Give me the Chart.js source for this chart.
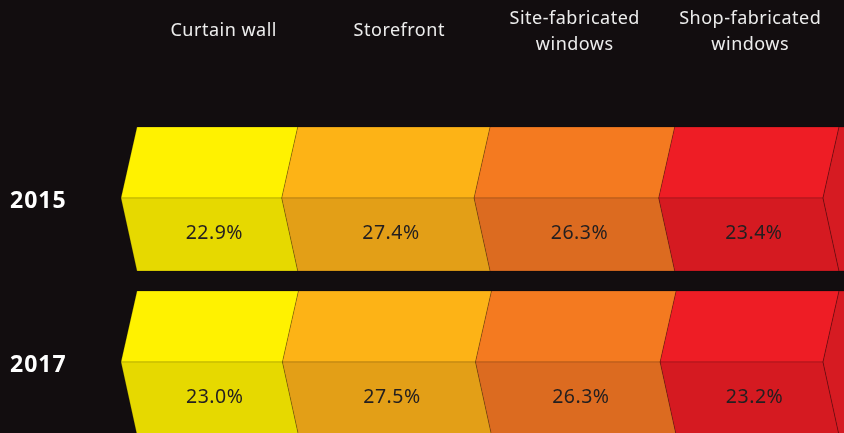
<!DOCTYPE html>
<html>
<head>
<meta charset="utf-8">
<script src="https://cdn.jsdelivr.net/npm/chart.js@4.4.1/dist/chart.umd.min.js"></script>
<style>
  html, body { margin: 0; padding: 0; background: #120d0f; overflow: hidden; }
  #wrap { width: 844px; height: 460px; }
</style>
</head>
<body>
<div id="wrap"><canvas id="myChart" width="844" height="460"></canvas></div>
<script>
const years = ['2015', '2017'];
const categories = [['Curtain wall'], ['Storefront'], ['Site-fabricated', 'windows'], ['Shop-fabricated', 'windows']];
const curtainWall = [22.9, 23.0];
const storefront = [27.4, 27.5];
const siteFab = [26.3, 26.3];
const shopFab = [23.4, 23.2];

const topColors = ['#fff200', '#fdb316', '#f47a20', '#ee1d25'];
const bottomColors = ['#e6d900', '#e39f17', '#dc6b20', '#d51a21'];

const notch = 16;

// draws the chevron shaped segments from the bar elements
const chevronPlugin = {
  id: 'chevrons',
  beforeDraw(chart) {
    const c = chart.ctx;
    c.save();
    c.fillStyle = '#120d0f';
    c.fillRect(0, 0, chart.width, chart.height);
    c.restore();
  },
  afterDatasetsDraw(chart) {
    const c = chart.ctx;
    const area = chart.chartArea;
    const n = chart.data.datasets.length;
    c.save();
    chart.data.datasets.forEach((ds, di) => {
      const meta = chart.getDatasetMeta(di);
      meta.data.forEach((bar, i) => {
        const p = bar.getProps(['x', 'y', 'base', 'height'], true);
        const left = p.base, right = p.x;
        const top = p.y - p.height / 2, bottom = p.y + p.height / 2, mid = p.y - 1;
        const last = di === n - 1;

        // top face
        c.beginPath();
        c.moveTo(left, top);
        c.lineTo(right, top);
        c.lineTo(right - notch, mid);
        c.lineTo(left - notch, mid);
        c.closePath();
        c.fillStyle = topColors[di];
        c.fill();
        c.strokeStyle = 'rgba(0,0,0,0.18)';
        c.lineWidth = 1;
        c.stroke();

        // bottom face
        c.beginPath();
        c.moveTo(left - notch, mid);
        c.lineTo(right - notch, mid);
        c.lineTo(right, bottom);
        c.lineTo(left, bottom);
        c.closePath();
        c.fillStyle = bottomColors[di];
        c.fill();
        c.stroke();

        if (last) {
          // side face at the right end
          c.beginPath();
          c.moveTo(right, top);
          c.lineTo(chart.width + 20, top);
          c.lineTo(chart.width + 20, bottom);
          c.lineTo(right, bottom);
          c.lineTo(right - notch, mid);
          c.closePath();
          c.fillStyle = '#d61b22';
          c.fill();
          c.strokeStyle = 'rgba(0,0,0,0.25)';
          c.stroke();
        }

        // value label
        c.fillStyle = '#231f20';
        c.font = '19.5px "Noto Sans", sans-serif';
        c.letterSpacing = '0.5px';
        c.textAlign = 'center';
        c.textBaseline = 'alphabetic';
        c.fillText(ds.data[i].toFixed(1) + '%', (left + right) / 2 - 3, mid + 41);

        // year label at the left
        if (di === 0) {
          c.fillStyle = '#ffffff';
          c.font = 'bold 23px "Noto Sans", sans-serif';
          c.letterSpacing = '1px';
          c.textAlign = 'left';
          c.fillText(chart.data.labels[i], 10, p.y + 9);
        }
      });

      // column header, evenly spread over the plot width
      const cx = area.left + (di + 0.5) * (area.right - area.left) / n - 1;
      c.fillStyle = '#ededed';
      c.font = '18px "Noto Sans", sans-serif';
      c.letterSpacing = '0.5px';
      c.textAlign = 'center';
      c.textBaseline = 'alphabetic';
      const lines = categories[di];
      if (lines.length === 1) {
        c.fillText(lines[0], cx, 36);
      } else {
        c.fillText(lines[0], cx, 24);
        c.fillText(lines[1], cx, 50);
      }
    });
    c.restore();
  }
};

const ctx = document.getElementById('myChart');
const datasets = [curtainWall, storefront, siteFab, shopFab].map((d, i) => ({
  label: categories[i].join(' '),
  data: d,
  backgroundColor: 'rgba(0,0,0,0)',
  borderWidth: 0,
  barThickness: 144
}));

new Chart(ctx, {
  type: 'bar',
  data: { labels: years, datasets: datasets },
  options: {
    indexAxis: 'y',
    responsive: false,
    animation: false,
    layout: { padding: { left: 10, right: 5, top: 117, bottom: 15 } },
    plugins: { legend: { display: false }, tooltip: { enabled: false } },
    scales: {
      x: { stacked: true, min: 0, max: 100, display: false },
      y: {
        stacked: true,
        grid: { display: false },
        border: { display: false },
        afterFit(scale) { scale.width = 127; },
        ticks: { display: false }
      }
    }
  },
  plugins: [chevronPlugin]
});
</script>
</body>
</html>
